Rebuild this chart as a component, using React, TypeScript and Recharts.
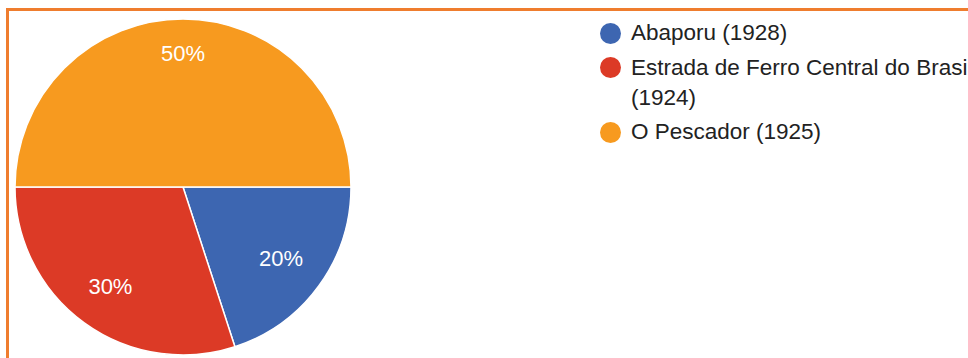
import React from "react";
import { Cell, Legend, Pie, PieChart } from "recharts";

const categories = ["Abaporu (1928)", "Estrada de Ferro Central do Brasil (1924)", "O Pescador (1925)"];
const shares = [20, 30, 50];
const colors = ["#3d66b1", "#dc3a26", "#f79a1f"];

const data = categories.map((name, i) => ({ name, value: shares[i] }));

const RADIAN = Math.PI / 180;
const FONT = "'Liberation Sans', Arial, sans-serif";

// label placed so that its outer box corner sits on a fixed radius
function renderLabel(props: any) {
  const { cx, cy, midAngle, percent } = props;
  const ux = Math.cos(-midAngle * RADIAN);
  const uy = Math.sin(-midAngle * RADIAN);
  const hw = 22;
  const hh = 10;
  const R = 145;
  const c1 = (Math.sign(Math.round(ux * 1000)) || 1) * hw;
  const c2 = (Math.sign(Math.round(uy * 1000)) || 1) * hh;
  const dot = ux * c1 + uy * c2;
  const t = -dot + Math.sqrt(dot * dot - (c1 * c1 + c2 * c2) + R * R);
  const x = cx + t * ux;
  const y = cy + t * uy;
  return (
    <text
      x={x}
      y={y}
      fill="#ffffff"
      fontSize={22}
      fontFamily={FONT}
      textAnchor="middle"
      dominantBaseline="central"
    >
      {`${Math.round(percent * 100)}%`}
    </text>
  );
}

function LegendBox() {
  return (
    <div style={{ fontFamily: FONT, fontSize: 22.5, color: "#222", width: 420 }}>
      {categories.map((name, i) => (
        <div key={name} style={{ display: "flex", alignItems: "flex-start", marginBottom: 4.5 }}>
          <span
            style={{
              flex: "0 0 auto",
              width: 21,
              height: 21,
              borderRadius: "50%",
              background: colors[i],
              marginTop: 4.5,
              marginRight: 10
            }}
          />
          <span style={{ lineHeight: "30px", width: 365, flex: "0 0 auto" }}>{name}</span>
        </div>
      ))}
    </div>
  );
}

export default function App() {
  return (
    <div
      style={{
        position: "fixed",
        left: 0,
        top: 0,
        width: 968,
        height: 358,
        overflow: "hidden",
        background: "#ffffff"
      }}
    >
      <div
        style={{
          position: "absolute",
          left: 6,
          top: 8,
          width: 1100,
          height: 500,
          border: "3px solid #ef7d2e",
          boxSizing: "border-box"
        }}
      />
      <div style={{ position: "absolute", left: 0, top: 0 }}>
        <PieChart width={968} height={358} margin={{ top: 0, right: 0, bottom: 0, left: 0 }}>
          <Pie
            data={data}
            dataKey="value"
            nameKey="name"
            cx={183}
            cy={187}
            outerRadius={168}
            startAngle={0}
            endAngle={-360}
            stroke="#ffffff"
            strokeWidth={1.5}
            label={renderLabel}
            labelLine={false}
            isAnimationActive={false}
          >
            {data.map((d, i) => (
              <Cell key={d.name} fill={colors[i]} />
            ))}
          </Pie>
          <Legend
            layout="vertical"
            content={() => <LegendBox />}
            wrapperStyle={{ position: "absolute", left: 600, top: 18, width: 420 }}
          />
        </PieChart>
      </div>
    </div>
  );
}
